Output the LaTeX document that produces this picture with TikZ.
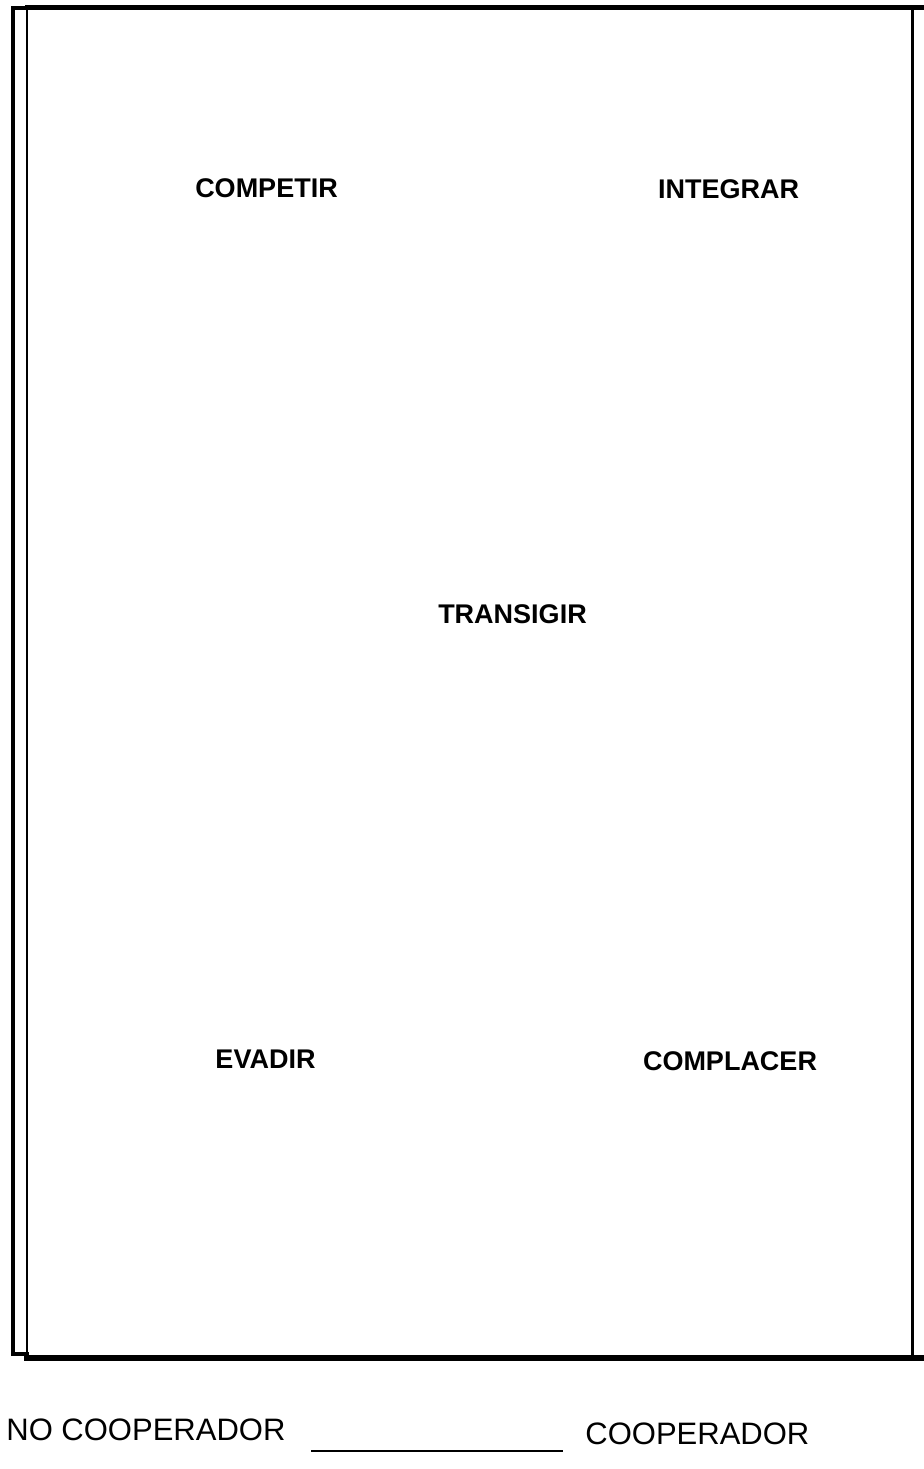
\documentclass[tikz,border=0pt]{standalone}
\usepackage{fontspec}
\setmainfont{Liberation Sans}
\usepackage{xcolor}

\begin{document}
\begin{tikzpicture}[x=0.5pt,y=-0.5pt,line cap=rect,
	lbl/.style={inner sep=0,anchor=base,font=\fontsize{13.5}{16}\selectfont\bfseries},
	axislbl/.style={inner sep=0,anchor=base west,font=\fontsize{15.5}{18}\selectfont}]
			\useasboundingbox (0,0) rectangle (923,1469);
			\coordinate (tl) at (27,7);
			\coordinate (tr) at (923,7);
			\coordinate (bl) at (27,1358);
			\coordinate (br) at (923,1358);
			\coordinate (ot) at (13,8);
			\coordinate (ob) at (13,1354);
			\draw[line width=2.5pt] (tl)--(tr);
			\draw[line width=2.8pt] (bl)--(br);
			\draw[line width=1.5pt] (912,7)--(912,1358);
			\draw[line width=1pt] (tl)--(bl);
			\draw[line width=2pt] (27,8)--(ot)--(ob)--(27,1354);
			\node[lbl] (competir) at (266.5,197) {COMPETIR};
			\node[lbl] (integrar) at (728.5,198) {INTEGRAR};
			\node[lbl] (transigir) at (512.5,623) {TRANSIGIR};
			\node[lbl] (evadir) at (265.5,1068) {EVADIR};
			\node[lbl] (complacer) at (730,1070) {COMPLACER};
			\node[axislbl] (nocoop) at (6,1440) {NO COOPERADOR};
			\node[axislbl] (coop) at (585,1444) {COOPERADOR};
			\coordinate (l0) at (312,1451);
			\coordinate (l1) at (562,1451);
			\draw[line width=0.8pt] (l0)--(l1);
		\end{tikzpicture}
\end{document}
